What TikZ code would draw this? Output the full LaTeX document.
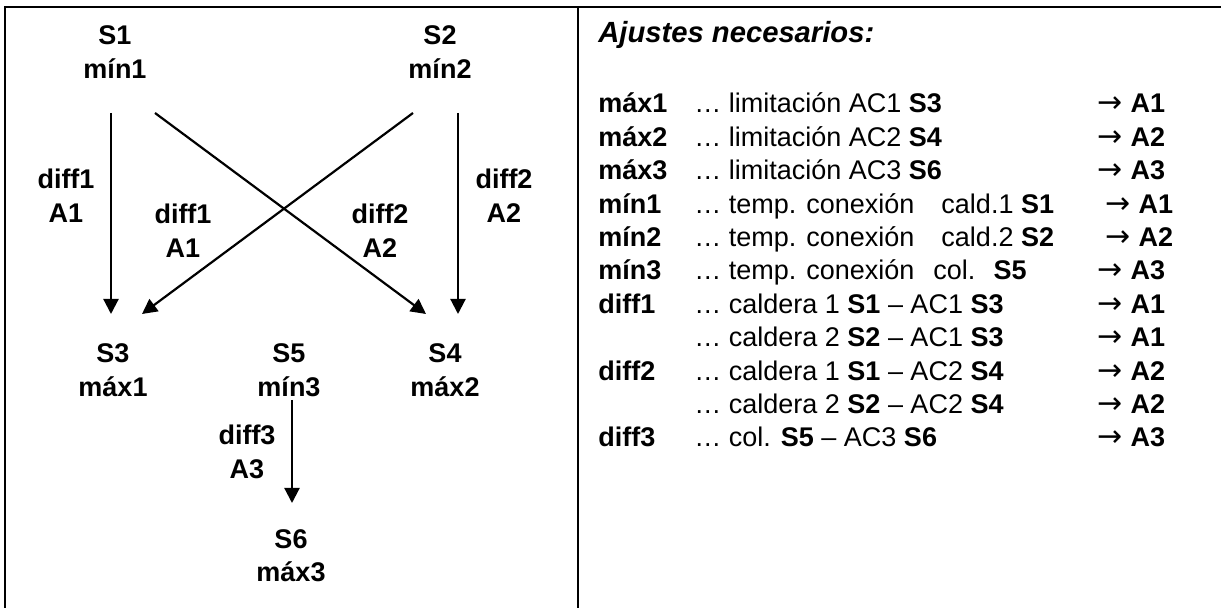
\documentclass[tikz,border=0pt]{standalone}
\usepackage{fontspec}
\setmainfont{Liberation Sans}
\newfontfamily\arrowfont{DejaVu Sans}
\usepackage{tikz}
\usetikzlibrary{positioning,arrows.meta,calc}

\tikzset{
  tag/.style={font=\fontsize{13.5}{17}\selectfont\bfseries,align=center,inner sep=0pt,anchor=base},
  row/.style={font=\fontsize{13.5}{17}\selectfont,inner sep=0pt,anchor=base west},
  flow/.style={line width=1.1pt,-{Triangle[length=7.5pt,width=7.5pt]}},
  frame/.style={line width=1.1pt}
}

\begin{document}
\begin{tikzpicture}[x=0.5pt,y=-0.5pt]
\useasboundingbox (0,0) rectangle (1221,608);

% frame
\draw[frame] (5,612) -- (5,7) -- (1225,7);
\draw[frame] (578,7) -- (578,612);

% sensors (base = last line)
\node[tag] (s1) at (115,79) {S1\\mín1};
\node[tag] (s2) at (440,79) {S2\\mín2};
\node[tag] (s3) at (113,397) {S3\\máx1};
\node[tag] (s5) at (289,397) {S5\\mín3};
\node[tag] (s4) at (445,397) {S4\\máx2};
\node[tag] (s6) at (291,582) {S6\\máx3};

% outputs
\draw[flow] ([shift={(-4,34)}]s1.base) -- ([shift={(-2,-83)}]s3.base);
\draw[flow] ([shift={(40,34)}]s1.base) -- ([shift={(-19,-83)}]s4.base);
\draw[flow] ([shift={(-27,34)}]s2.base) -- ([shift={(29,-83)}]s3.base);
\draw[flow] ([shift={(18,34)}]s2.base) -- ([shift={(13,-83)}]s4.base);
\draw[flow] ([shift={(3,3)}]s5.base) -- ([shift={(1,-79)}]s6.base);

\node[tag] (d1a) at (66,223) {diff1\\A1};
\node[tag] (d1b) at (183,258) {diff1\\A1};
\node[tag] (d2b) at (380,258) {diff2\\A2};
\node[tag] (d2a) at (504,223) {diff2\\A2};
\node[tag] (d3) at (247,479) {diff3\\A3};

% list of settings
\node[row,font=\fontsize{14.6}{17}\selectfont\bfseries\itshape] (title) at (598,43) {Ajustes necesarios:};
\foreach \lbl/\txt/\dst/\dx [count=\i] in {
  máx1/{… limitación AC1 \textbf{S3}}/A1/0,
  máx2/{… limitación AC2 \textbf{S4}}/A2/0,
  máx3/{… limitación AC3 \textbf{S6}}/A3/0,
  mín1/{… temp. conexión\hspace{13.5pt}cald.1 \textbf{S1}}/A1/8,
  mín2/{… temp. conexión\hspace{13.5pt}cald.2 \textbf{S2}}/A2/8,
  mín3/{… temp. conexión\hspace{9.5pt}col.\hspace{9pt}\textbf{S5}}/A3/0,
  diff1/{… caldera 1 \textbf{S1} – AC1 \textbf{S3}}/A1/0,
  {}/{… caldera 2 \textbf{S2} – AC1 \textbf{S3}}/A1/0,
  diff2/{… caldera 1 \textbf{S1} – AC2 \textbf{S4}}/A2/0,
  {}/{… caldera 2 \textbf{S2} – AC2 \textbf{S4}}/A2/0,
  diff3/{… col. \textbf{S5} – AC3 \textbf{S6}}/A3/0}
{
  \node[row,font=\fontsize{13.5}{17}\selectfont\bfseries] (lbl\i) at (598,{113+33.4*(\i-1)}) {\lbl};
  \node[row] (txt\i) at (694,{113+33.4*(\i-1)}) {\txt};
  \node[row] (dst\i) at ({1097+\dx},{113+33.4*(\i-1)}) {{\arrowfont\fontsize{15}{17}\selectfont →}\hspace{4pt}\textbf{\dst}};
}
\end{tikzpicture}
\end{document}
